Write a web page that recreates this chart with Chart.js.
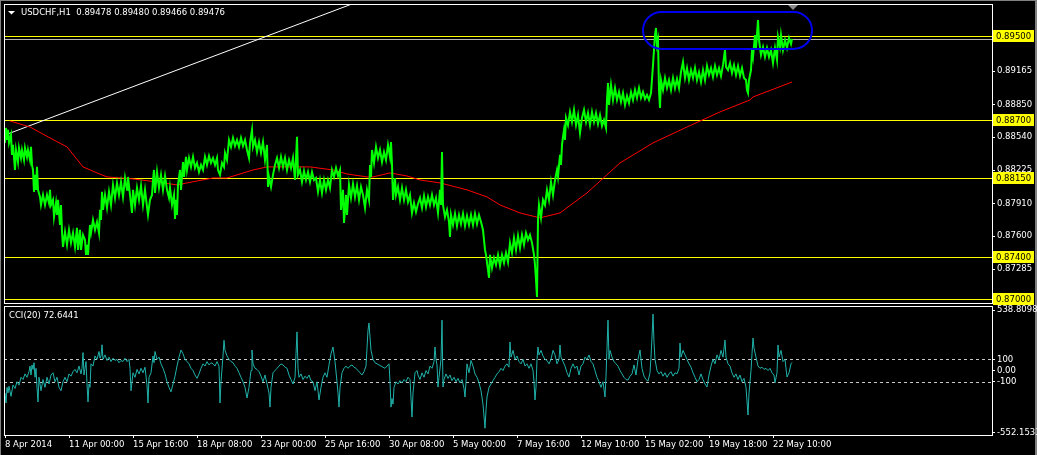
<!DOCTYPE html>
<html>
<head>
<meta charset="utf-8">
<script src="https://cdn.jsdelivr.net/npm/chart.js@4.4.1/dist/chart.umd.min.js"></script>
<style>
  body { margin: 0; background: #000; width: 1037px; height: 455px; overflow: hidden; position: relative; }
  canvas { position: absolute; left: 0; }
  .edge { position: absolute; background: #808080; }
</style>
</head>
<body>
<div class="edge" style="left:0;top:0;width:1037px;height:1px"></div>
<div class="edge" style="left:0;top:0;width:1px;height:455px"></div>
<div class="edge" style="left:1035px;top:0;width:2px;height:455px"></div>
<canvas id="priceChart" width="1037" height="305" style="top:0"></canvas>
<canvas id="cciChart" width="1037" height="150" style="top:305px"></canvas>
<script>
// bar index = trading hours since 8 Apr 2014 08:00 (H1)
var symbolName = "USDCHF,H1";
var lastBar = [0.89478, 0.89480, 0.89466, 0.89476]; // O H L C
var bidPrice = 0.89476;

var timeTicks = [0, 64, 128, 192, 256, 320, 384, 448, 512, 576, 640, 704, 768];
var timeLabels = ["8 Apr 2014", "11 Apr 00:00", "15 Apr 16:00", "18 Apr 08:00", "23 Apr 00:00",
  "25 Apr 16:00", "30 Apr 08:00", "5 May 00:00", "7 May 16:00", "12 May 10:00",
  "15 May 02:00", "19 May 18:00", "22 May 10:00"];

var priceTicks = [0.89165, 0.88850, 0.88540, 0.88225, 0.87910, 0.87600, 0.87285, 0.86970];
var levelLines = [0.89500, 0.88700, 0.88150, 0.87400, 0.87000];

// [bar, price] - high/low swings
var pricePath = [
  [0,0.88485],[1,0.88627],[2,0.88513],[3,0.88608],[4,0.88485],[6,0.88560],[7,0.88371],[8,0.88466],
  [10,0.88228],[11,0.88418],[13,0.88304],[14,0.88437],[16,0.88342],[17,0.88418],[19,0.88323],[20,0.88437],
  [22,0.88352],[23,0.88418],[25,0.88323],[26,0.88447],[27,0.88276],[28,0.88228],[29,0.88020],[30,0.88181],
  [31,0.88039],[32,0.88257],[33,0.88039],[35,0.87972],[36,0.87896],[38,0.87991],[40,0.87896],[42,0.87991],
  [44,0.87915],[45,0.88039],[46,0.87896],[48,0.87944],[49,0.87782],[51,0.87915],[52,0.87801],[53,0.87944],
  [55,0.87706],[56,0.87896],
  [57,0.87640],[58,0.87498],[60,0.87640],[62,0.87517],[64,0.87659],[66,0.87536],[68,0.87630],[70,0.87498],
  [72,0.87678],[73,0.87469],[75,0.87659],[76,0.87469],[78,0.87611],[80,0.87564],[81,0.87422],[82,0.87517],
  [83,0.87422],[85,0.87706],[86,0.87630],[88,0.87754],[90,0.87659],[92,0.87735],[94,0.87630],[95,0.87849],
  [96,0.87754],
  [97,0.88020],[98,0.87849],[100,0.87991],[102,0.87868],[104,0.88020],[106,0.87896],[108,0.88086],[110,0.87963],
  [112,0.88105],[114,0.87991],[116,0.88114],[118,0.87972],[120,0.88152],[122,0.88039],[123,0.88162],[125,0.87991],
  [127,0.87820],[128,0.88039],[130,0.87896],[132,0.88058],[134,0.87944],[136,0.88077],[138,0.87896],[140,0.88039],
  [142,0.87877],[143,0.87801],[145,0.87944],[147,0.87991],[148,0.88133],[149,0.88228],[150,0.88010],[152,0.88209],
  [154,0.88058],[156,0.88181],[158,0.88039],[160,0.88171],[162,0.88039],[164,0.87963],[165,0.88058],[167,0.87896],
  [169,0.87991],[170,0.87763],[171,0.87944],[172,0.87801],
  [173,0.88086],[175,0.88228],[176,0.88039],[178,0.88304],[179,0.88162],[181,0.88352],[182,0.88228],[184,0.88342],
  [186,0.88257],[188,0.88352],[190,0.88247],[192,0.88295],[194,0.88209],[196,0.88276],[198,0.88228],[200,0.88352],
  [202,0.88276],[204,0.88361],[206,0.88295],[208,0.88342],[210,0.88276],[212,0.88342],[213,0.88228],[215,0.88181],
  [217,0.88295],[219,0.88257],[220,0.88390],[222,0.88323],[224,0.88513],[226,0.88447],[228,0.88532],[230,0.88456],
  [232,0.88513],[234,0.88447],[236,0.88532],[238,0.88456],[240,0.88513],[242,0.88418],[244,0.88342],[245,0.88485],
  [247,0.88608],[248,0.88447],[250,0.88513],[252,0.88399],[254,0.88494],[256,0.88390],[258,0.88494],[260,0.88323],
  [262,0.88466],[263,0.88067],[264,0.88162],[266,0.88067],[268,0.88181],[270,0.88276],[272,0.88342],[274,0.88247],
  [276,0.88352],[278,0.88257],
  [280,0.88342],[282,0.88228],[284,0.88323],[286,0.88247],[288,0.88342],[290,0.88133],[292,0.88542],[293,0.88181],
  [295,0.88228],[297,0.88114],[299,0.88219],[301,0.88133],[303,0.88209],[305,0.88114],[307,0.88209],[309,0.88133],
  [311,0.88152],[313,0.88020],[315,0.88133],[317,0.88010],[319,0.88133],[321,0.88039],[323,0.88133],[325,0.88058],
  [327,0.88228],[329,0.88162],[331,0.88247],[333,0.88171],[335,0.88228],[336,0.87849],[338,0.88039],[339,0.87725],
  [341,0.87991],[342,0.87801],[344,0.88086],[346,0.87963],[348,0.88095],[350,0.87972],[352,0.88077],[354,0.87944],
  [356,0.88067],[358,0.87991],[360,0.87868],[362,0.88039],[364,0.87944],[365,0.88276],[366,0.88162],[367,0.88418],
  [369,0.88295],
  [371,0.88447],[373,0.88342],[375,0.88418],[377,0.88304],[379,0.88399],[381,0.88323],[383,0.88466],[385,0.88352],
  [386,0.88494],[387,0.88276],[388,0.87944],[390,0.88152],[391,0.87991],[393,0.88067],[395,0.87944],[397,0.88058],
  [399,0.87944],[401,0.88039],[403,0.87925],[405,0.87991],[407,0.87820],[409,0.87915],[411,0.87830],[413,0.87906],
  [415,0.87963],[417,0.87868],[419,0.87982],[421,0.87877],[423,0.87972],[425,0.87896],[427,0.87991],[429,0.87896],
  [431,0.87963],[433,0.87820],[435,0.88039],[436,0.87896],[437,0.88399],[438,0.87896],[440,0.87782],[442,0.87849],
  [444,0.87735],[445,0.87592],[446,0.87801],[448,0.87706],[450,0.87811],[452,0.87697],[454,0.87801],[456,0.87716],
  [458,0.87811],[460,0.87697],[462,0.87792],[464,0.87706],[466,0.87801],[468,0.87706],[470,0.87811],[472,0.87716],
  [474,0.87801],[476,0.87735],[478,0.87659],[480,0.87469],[481,0.87422],[483,0.87279],[484,0.87204],[485,0.87422],
  [487,0.87298],[489,0.87393],[491,0.87327],[493,0.87422],[495,0.87317],[497,0.87422],[499,0.87346],[501,0.87441],
  [503,0.87355],[505,0.87536],[507,0.87441],[509,0.87583],[511,0.87469],[513,0.87602],[515,0.87488],[517,0.87611],
  [519,0.87517],[521,0.87630],[523,0.87564],[525,0.87611],[527,0.87536],[529,0.87422],[530,0.87327],[531,0.87184],
  [532,0.87023],[533,0.87754],[534,0.87896],[536,0.87773],[538,0.87944],[540,0.87896],[542,0.88039],[544,0.87944],
  [546,0.88114],[548,0.87991],[550,0.88133],[552,0.88228],[553,0.88162],[555,0.88371],[556,0.88276],
  [557,0.88466],[558,0.88542],[559,0.88608],[560,0.88513],[561,0.88722],[563,0.88655],[565,0.88779],[567,0.88684],
  [569,0.88798],[571,0.88655],[573,0.88750],[575,0.88579],[577,0.88722],[579,0.88798],[581,0.88684],[583,0.88769],
  [585,0.88655],[587,0.88779],[589,0.88684],[591,0.88769],[593,0.88665],[595,0.88750],[597,0.88646],[599,0.88703],
  [601,0.88627],[602,0.88893],[603,0.89054],[604,0.88845],[606,0.89035],[608,0.88893],[610,0.89006],[612,0.88893],
  [614,0.88969],[616,0.88874],[618,0.88959],[620,0.88845],[622,0.88931],[624,0.88864],[626,0.88969],[628,0.88893],
  [630,0.88988],[632,0.88912],[634,0.89006],[636,0.88912],[638,0.88969],[640,0.88902],[642,0.88940],[644,0.88893],
  [646,0.88959],[648,0.89225],[649,0.89367],[650,0.89509],[651,0.89576],[652,0.89415],[653,0.89462],[654,0.88988],
  [655,0.88817],[656,0.89082],
  [658,0.88988],[660,0.89101],[662,0.89006],[664,0.89082],[666,0.88988],[668,0.89101],[670,0.89006],[672,0.89092],
  [674,0.89006],[676,0.89158],[678,0.89253],[680,0.89101],[682,0.89196],[684,0.89082],[686,0.89177],[688,0.89101],
  [690,0.89196],[692,0.89082],[694,0.89158],[696,0.89063],[698,0.89177],[700,0.89082],[702,0.89215],[704,0.89130],
  [706,0.89196],[708,0.89111],[710,0.89215],[712,0.89130],[714,0.89196],[716,0.89120],[718,0.89225],[720,0.89367],
  [721,0.89206],[723,0.89177],[725,0.89244],[727,0.89149],[729,0.89225],[731,0.89130],[733,0.89215],[735,0.89120],
  [737,0.89196],[739,0.89101],[741,0.89082],[742,0.88988],[743,0.88959],[744,0.89082],[746,0.89177],[747,0.89367],
  [748,0.89301],[750,0.89509],[751,0.89386],[753,0.89652],[754,0.89462],[756,0.89320],[758,0.89396],[760,0.89301],
  [762,0.89386],[764,0.89301],[766,0.89367],[768,0.89244],[770,0.89386],[772,0.89272],[773,0.89491],[775,0.89396],
  [776,0.89509],[778,0.89367],[780,0.89462],[782,0.89386],[784,0.89481],[786,0.89424],[787,0.89471]
];

// moving average (red)
var maPath = [
  [5,0.88693],[25,0.88636],[45,0.88532],[62,0.88447],[78,0.88257],[92,0.88200],[102,0.88162],[128,0.88143],
  [152,0.88114],[172,0.88086],[182,0.88105],[208,0.88152],[222,0.88152],[248,0.88228],[262,0.88257],[305,0.88257],
  [328,0.88228],[342,0.88190],[362,0.88162],[368,0.88162],[385,0.88200],[402,0.88171],[415,0.88133],[435,0.88105],
  [462,0.88039],[482,0.87972],[495,0.87896],[515,0.87820],[535,0.87773],[555,0.87820],[582,0.88010],[615,0.88295],
  [648,0.88485],[682,0.88636],[715,0.88779],[745,0.88893],[748,0.88921],[787,0.89063]
];

// white trend line
var trendLine = [[0,0.88560],[347,0.89804]];

// ellipse object around the top
var ellipseBox = { from: 638, to: 807, top: 0.89728, bottom: 0.89377 };

// CCI(20)
var cciLevels = [100, -100];
var cciTicks = [538.8098, 100, 0, -100, -552.1533];
var cciTickLabels = ["538.8098", "100", "0.00", "-100", "-552.1533"];
var cciLast = 72.6441;
var cciPath = [
  [0,-200],[1,-290],[2,-150],[3,-200],[4,-140],[6,-230],[8,-130],[10,-160],[12,-100],[14,-130],[16,-60],[18,-80],
  [20,-30],[22,-60],[24,-10],[25,40],[26,-40],[27,50],[28,10],[29,70],[30,-60],[31,20],[32,-150],[33,-280],
  [34,-60],[36,-180],[38,-80],[40,-150],[42,-60],[44,-120],[46,-40],[48,-20],[50,-100],[52,-60],[54,-150],[56,-180],
  [58,-100],[60,-60],[62,-100],[64,-30],[66,-50],[68,-10],[70,10],[72,-20],[74,40],[76,-30],[77,20],[78,160],
  [79,-40],[80,20],[81,80],[82,-120],[83,-280],[84,-120],[85,-150],[86,60],[88,40],[90,130],[92,100],[94,170],
  [95,110],[96,130],[97,230],[98,100],[100,140],[102,90],[104,120],[106,80],[108,110],[110,90],[112,100],[114,70],
  [116,90],[118,80],[120,110],[122,80],[124,100],[125,20],[126,-180],[128,-20],[130,-60],[132,10],[134,-30],[136,20],
  [138,-20],[140,30],[142,-130],[143,-290],[144,-60],[146,-20],[148,130],[149,70],[150,170],[152,100],[154,120],[156,60],
  [158,20],[160,-30],[162,-100],[164,-150],[166,-190],[168,-120],[170,-50],[172,40],[174,120],[176,183],[178,150],[180,100],
  [182,80],[184,60],[186,20],[188,0],[190,-40],[192,-70],[194,-30],[196,20],[198,60],[200,40],[202,80],[204,50],
  [206,70],[208,60],[210,40],[212,80],[214,40],[215,-290],[216,-100],[218,130],[219,270],[220,180],[222,130],[224,100],
  [226,80],[228,70],[230,40],[232,20],[234,-20],[236,-60],[238,-100],[240,-150],[242,-245],[244,-150],[246,0],[247,183],
  [248,60],[250,20],[252,10],[254,-10],[256,-50],[258,-100],[260,-40],[262,-120],[264,-200],[265,-326],[266,-150],[268,-20],
  [270,0],[272,20],[274,40],[276,60],[278,50],[280,30],[282,20],[284,-40],[286,-80],[288,-120],[290,-60],[291,150],
  [292,345],[293,20],[294,-60],[296,-30],[298,-80],[300,-50],[302,-70],[304,-40],[306,-90],[308,-100],[310,-180],[312,-100],
  [314,-263],[316,-150],[318,-60],[320,-20],[322,-60],[324,50],[326,150],[328,210],[330,80],[332,-100],[333,-200],[334,-326],
  [335,-150],[337,-20],[339,20],[341,40],[343,20],[345,40],[347,50],[349,30],[351,20],[353,0],[355,-20],[357,-40],
  [359,-10],[361,40],[362,200],[363,360],[364,424],[365,300],[366,180],[368,100],[370,70],[372,60],[374,50],[376,40],
  [378,30],[380,20],[382,40],[384,60],[385,-100],[386,-326],[387,-250],[388,-300],[389,-150],[391,-100],[393,-120],[395,-90],
  [397,-110],[399,-80],[401,-100],[403,-60],[405,-80],[407,-415],[408,-200],[410,-20],[412,0],
  [413,-40],[415,-80],[417,-20],[419,-60],[421,0],[423,-30],[425,40],[427,20],[429,80],[430,210],[431,100],[432,50],
  [433,-147],[434,-60],[436,100],[437,450],[438,-147],[439,-80],[441,-30],[443,-70],[445,-40],[447,-90],[449,-60],[451,-100],
  [453,-70],[455,-110],[457,-80],[459,-160],[460,-236],[461,-100],[462,60],[464,-20],[466,90],[468,40],[470,-30],[472,-60],
  [474,-110],[476,-180],[478,-300],[480,-515],[481,-350],[482,-236],[484,-150],[486,-120],[488,-90],[490,-60],[492,-30],[494,-10],
  [496,20],[498,0],[500,40],[502,60],[504,30],[505,255],[506,120],[508,180],[510,100],[512,130],[514,80],[516,60],
  [518,100],[520,40],[522,60],[524,20],[526,60],[528,0],[529,-100],[530,-263],[531,-150],[532,100],[533,210],[534,140],
  [536,180],[538,130],[540,100],[542,90],[544,60],[546,100],[548,180],[550,140],[552,60],[554,100],[555,228],[556,120],
  [558,80],[560,40],[562,-20],[564,-58],[566,20],[568,60],[570,20],[572,40],[574,-40],[576,40],[578,60],[580,120],
  [582,100],[584,140],[586,80],[588,60],[590,0],[592,-60],[594,-100],[596,-150],[598,-100],[600,-236],[601,-50],[602,200],
  [603,450],[604,100],[605,180],[607,120],[609,80],[611,60],[613,40],[615,0],[617,-30],[619,-60],[621,-80],[623,-85],
  [625,-50],[627,-30],[629,50],[631,-40],[633,100],[635,183],[637,20],[639,-50],[641,-80],[643,-95],[645,-20],[646,120],
  [647,300],[648,504],[649,250],[650,100],[652,0],[654,-30],[656,-10],[658,-50],[660,-20],[662,-60],[664,-30],[666,-10],
  [668,-50],[670,-20],[672,-30],[674,20],[675,245],[676,120],[678,180],[680,140],[682,100],[684,60],[686,30],[688,-20],
  [690,-60],[692,-100],[694,-80],[696,-30],[698,-80],[700,-120],[702,-147],[704,-40],[706,40],[708,100],[710,60],[712,140],
  [714,100],[716,180],[718,120],[720,272],[721,120],[723,60],[725,40],[727,-20],[729,-60],[731,-30],[733,-80],[735,-40],
  [737,-100],[739,-70],[741,-150],[743,-397],[744,-200],[746,0],[747,150],[748,290],[749,200],[751,120],[753,40],[755,20],
  [757,30],[759,10],[761,20],[763,0],[765,20],[767,-20],[769,-40],[770,-110],[772,-20],[773,228],[774,120],[776,180],
  [778,80],[780,100],[782,-58],[784,-20],[786,60],[787,72.6441]
];

var uiFont = "DejaVu Sans";
var fontSize = 8.5;

function toXY(arr) {
  return arr.map(function(p) { return { x: p[0], y: p[1] }; });
}

// chart.js pads the area for the outer tick labels, MT4 doesn't
function noEdgePad(s) {
  s.paddingTop = 0;
  s.paddingBottom = 0;
  s.paddingLeft = 0;
  s.paddingRight = 0;
}

// decorations of the price window: levels, labels, frame, ellipse, header
var priceDecor = {
  id: "priceDecor",
  beforeDatasetsDraw: function(chart) {
    var ctx = chart.ctx, a = chart.chartArea, ys = chart.scales.y;
    ctx.save();
    ctx.lineWidth = 1;
    ctx.strokeStyle = "#b4b4b4";
    var by = Math.round(ys.getPixelForValue(bidPrice)) + 0.5;
    ctx.beginPath(); ctx.moveTo(a.left, by); ctx.lineTo(a.right, by); ctx.stroke();
    ctx.strokeStyle = "#ffff00";
    for (var i = 0; i < levelLines.length; i++) {
      var py = Math.round(ys.getPixelForValue(levelLines[i])) + 0.5;
      ctx.beginPath(); ctx.moveTo(a.left, py); ctx.lineTo(a.right, py); ctx.stroke();
    }
    ctx.restore();
  },
  afterDraw: function(chart) {
    var ctx = chart.ctx, a = chart.chartArea, ys = chart.scales.y, xs = chart.scales.x;
    ctx.save();
    // frame
    ctx.strokeStyle = "#ffffff";
    ctx.lineWidth = 1;
    ctx.strokeRect(a.left + 0.5, a.top + 0.5, a.right - a.left, a.bottom - a.top);

    // ellipse object
    var ex0 = xs.getPixelForValue(ellipseBox.from), ex1 = xs.getPixelForValue(ellipseBox.to);
    var ey0 = ys.getPixelForValue(ellipseBox.top), ey1 = ys.getPixelForValue(ellipseBox.bottom);
    ctx.strokeStyle = "#0000f0";
    ctx.lineWidth = 2;
    ctx.beginPath();
    ctx.roundRect(ex0, ey0, ex1 - ex0, ey1 - ey0, (ey1 - ey0) / 2);
    ctx.stroke();

    // chart shift marker
    var sx = xs.getPixelForValue(pricePath[pricePath.length - 1][0] + 1);
    ctx.fillStyle = "#8a8a8a";
    ctx.beginPath();
    ctx.moveTo(sx - 5, a.top + 1); ctx.lineTo(sx + 5, a.top + 1); ctx.lineTo(sx, a.top + 6);
    ctx.closePath(); ctx.fill();

    // level price labels
    ctx.font = fontSize + "px '" + uiFont + "'";
    ctx.textBaseline = "middle";
    ctx.textAlign = "left";
    for (var i = 0; i < levelLines.length; i++) {
      var py = Math.round(ys.getPixelForValue(levelLines[i]));
      ctx.fillStyle = "#ffff00";
      ctx.fillRect(a.right + 1, py - 6, 41, 12);
      ctx.fillStyle = "#000000";
      ctx.fillText(levelLines[i].toFixed(5), a.right + 4, py + 0.5);
    }

    // header
    ctx.fillStyle = "#ffffff";
    ctx.beginPath();
    ctx.moveTo(a.left + 4, a.top + 7); ctx.lineTo(a.left + 11, a.top + 7); ctx.lineTo(a.left + 7.5, a.top + 10.5);
    ctx.closePath(); ctx.fill();
    var head = symbolName + "  " + lastBar.map(function(v) { return v.toFixed(5); }).join(" ");
    ctx.fillText(head, a.left + 17, a.top + 9);
    ctx.restore();
  }
};

var cciDecor = {
  id: "cciDecor",
  beforeDatasetsDraw: function(chart) {
    var ctx = chart.ctx, a = chart.chartArea, ys = chart.scales.y;
    ctx.save();
    ctx.strokeStyle = "#c8c8c8";
    ctx.lineWidth = 1;
    ctx.setLineDash([3, 3]);
    cciLevels.forEach(function(v) {
      var py = Math.round(ys.getPixelForValue(v)) + 0.5;
      ctx.beginPath(); ctx.moveTo(a.left, py); ctx.lineTo(a.right, py); ctx.stroke();
    });
    ctx.restore();
  },
  afterDraw: function(chart) {
    var ctx = chart.ctx, a = chart.chartArea;
    ctx.save();
    ctx.strokeStyle = "#ffffff";
    ctx.lineWidth = 1;
    ctx.strokeRect(a.left + 0.5, a.top + 0.5, a.right - a.left, a.bottom - a.top);
    ctx.fillStyle = "#ffffff";
    ctx.font = fontSize + "px '" + uiFont + "'";
    ctx.textBaseline = "middle";
    ctx.fillText("CCI(20) " + cciLast.toFixed(4), a.left + 5, a.top + 10);
    ctx.restore();
  }
};

var tickFont = { family: uiFont, size: fontSize };

var priceChart = new Chart(document.getElementById("priceChart"), {
  type: "line",
  data: {
    datasets: [
      { label: "USDCHF", data: toXY(pricePath), borderColor: "#00ff00", borderWidth: 2, pointRadius: 0, tension: 0 },
      { label: "MA", data: toXY(maPath), borderColor: "#ff0000", borderWidth: 1, pointRadius: 0, tension: 0 },
      { label: "Trend", data: toXY(trendLine), borderColor: "#ffffff", borderWidth: 1, pointRadius: 0 }
    ]
  },
  options: {
    responsive: false,
    animation: false,
    devicePixelRatio: 1,
    layout: { padding: { left: 4, top: 4, bottom: 2, right: 0 } },
    plugins: { legend: { display: false }, tooltip: { enabled: false } },
    scales: {
      x: { type: "linear", min: -1, max: 987, display: false },
      y: {
        position: "right",
        min: 0.869649,
        max: 0.898038,
        afterBuildTicks: function(s) { s.ticks = priceTicks.map(function(v) { return { value: v }; }); },
        afterFit: function(s) { s.width = 45; noEdgePad(s); },
        ticks: {
          color: "#ffffff",
          font: tickFont,
          padding: 2,
          autoSkip: false,
          callback: function(v) { return Number(v).toFixed(5); }
        },
        grid: { drawOnChartArea: false, color: "#ffffff", tickLength: 3 },
        border: { display: false }
      }
    }
  },
  plugins: [priceDecor]
});

var cciChart = new Chart(document.getElementById("cciChart"), {
  type: "line",
  data: {
    datasets: [
      { label: "CCI(20)", data: toXY(cciPath), borderColor: "#20b2aa", borderWidth: 1, pointRadius: 0, tension: 0 }
    ]
  },
  options: {
    responsive: false,
    animation: false,
    devicePixelRatio: 1,
    layout: { padding: { left: 4, top: 1, bottom: 0, right: 0 } },
    plugins: { legend: { display: false }, tooltip: { enabled: false } },
    scales: {
      x: {
        type: "linear",
        min: -1,
        max: 987,
        afterBuildTicks: function(s) { s.ticks = timeTicks.map(function(v) { return { value: v }; }); },
        afterFit: function(s) { s.height = 20; noEdgePad(s); },
        ticks: {
          color: "#ffffff",
          font: tickFont,
          align: "start",
          padding: 2,
          maxRotation: 0,
          autoSkip: false,
          callback: function(v, i) { return timeLabels[i]; }
        },
        grid: { drawOnChartArea: false, color: "#ffffff", tickLength: 3 },
        border: { display: false }
      },
      y: {
        position: "right",
        min: -575.4,
        max: 576.3,
        afterBuildTicks: function(s) { s.ticks = cciTicks.map(function(v) { return { value: v }; }); },
        afterFit: function(s) { s.width = 45; noEdgePad(s); },
        ticks: {
          color: "#ffffff",
          font: tickFont,
          padding: 2,
          autoSkip: false,
          callback: function(v, i) { return cciTickLabels[i]; }
        },
        grid: { drawOnChartArea: false, color: "#ffffff", tickLength: 3 },
        border: { display: false }
      }
    }
  },
  plugins: [cciDecor]
});
</script>
</body>
</html>
